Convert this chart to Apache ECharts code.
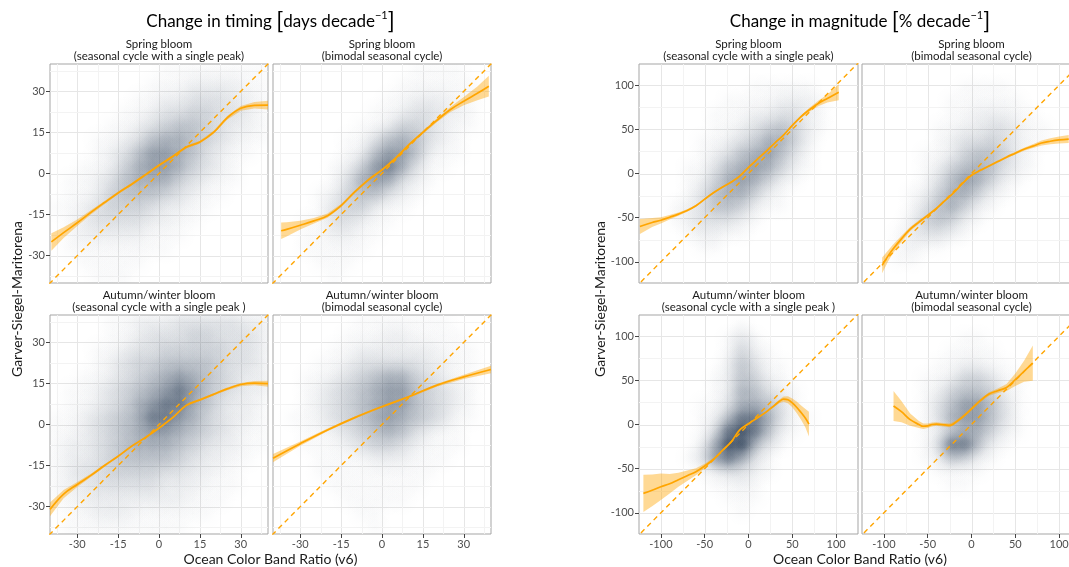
<!DOCTYPE html>
<html><head><meta charset="utf-8">
<script src="https://cdn.jsdelivr.net/npm/echarts@6/dist/echarts.min.js"></script>
<style>html,body{margin:0;padding:0;background:#fff}#c{width:1069px;height:567px}</style>
</head><body><div id="c"></div>
<script>
// ---------- DATA ----------
const timingTicks = [-30, -15, 0, 15, 30];
const timingMinor = [-37.5, -22.5, -7.5, 7.5, 22.5, 37.5];
const magTicks = [-100, -50, 0, 50, 100];
const magMinor = [-75, -25, 25, 75];
const timingRange = [-40, 40];
const magXRange = [-125, 125];
const magYRange = [-124, 124];
// density bins (16 x 16), rows listed from top (high y) to bottom
const timingBinStart = -40, timingBinStep = 5;
const magBinStart = -120, magBinStep = 15;

const subTop = ["Spring bloom", "Spring bloom"];
const subTop2 = ["(seasonal cycle with a single peak)", "(bimodal seasonal cycle)"];
const subBot = ["Autumn/winter bloom", "Autumn/winter bloom"];
const subBot2 = ["(seasonal cycle with a single peak )", "(bimodal seasonal cycle)"];

// Timing, spring, single peak
const densA = ["0000000011111111","0000000111222211","0000001122333221","0000011233443321","0000112345543221","0001123566543211","0001235776532110","0011246776432100","0112356664321100","0112455543211000","1123444322110000","0123333221100000","0122222111000000","0111111110000000","0011111000000000","0001110000000000"];
const xA = [-39.5,-35,-30,-25,-20,-15,-10,-5,0,5,10,15,20,25,30,35,40];
const yA = [-25.0,-21.6,-18.0,-14.2,-10.6,-7.1,-3.9,-0.5,3.0,6.2,9.6,11.5,15.0,20.3,23.8,24.9,25.0];
const ciA = [3.2,2.0,1.2,0.8,0.6,0.5,0.5,0.5,0.5,0.5,0.5,0.5,0.6,0.7,0.9,1.2,1.6];
// Timing, spring, bimodal
const densB = ["0000000000111100","0000000001111110","0000000011222110","0000000112332210","0000001124432110","0000011356532100","0000012577521100","0000124786311000","0000136763210000","0001245532100000","0001344211000000","0011332110000000","0011221100000000","0011111000000000","0001110000000000","0000100000000000"];
const xB = [-37,-35,-30,-25,-20,-15,-10,-5,0,5,10,15,20,25,30,35,39.2];
const yB = [-20.9,-20.4,-18.9,-17.3,-15.4,-11.7,-6.7,-2.3,1.3,5.6,10.6,15.0,19.3,23.3,26.4,29.3,31.9];
const ciB = [3.0,2.6,1.6,1.0,0.8,0.6,0.5,0.5,0.5,0.5,0.5,0.6,0.7,0.9,1.5,2.5,3.8];
// Timing, autumn/winter, single peak
const densC = ["0000112223333322","0000112333443332","0001123344444332","0001234455554332","0011234567654322","0112345678754322","0112346788653221","1123456887643221","1123456776543211","1223456665432211","1223455554322110","1233444433221100","1223333322211100","1122222222111000","0112221111110000","0111111111000000"];
const xC = [-40,-35,-30,-25,-20,-15,-10,-5,0,5,10,15,20,25,30,35,40];
const yC = [-31.0,-25.4,-21.9,-18.6,-15.0,-11.6,-7.9,-4.8,-1.3,2.5,7.0,9.0,11.0,13.0,14.6,15.1,14.9];
const ciC = [2.5,1.5,0.9,0.6,0.5,0.4,0.4,0.4,0.4,0.4,0.4,0.4,0.4,0.5,0.6,0.8,1.1];
// Timing, autumn/winter, bimodal
const densD = ["0000001111111000","0000011122111100","0000112222221110","0001123333322110","0011234566432110","0012345677543210","0012345677543210","0112345676543110","0011234565321100","0011123443211100","0001111222111000","0001111111110000","0000111111100000","0000011111000000","0000001100000000","0000000100000000"];
const xD = [-40,-30,-20,-10,0,10,20,30,40];
const yD = [-12.3,-7.0,-2.0,2.5,6.5,10.2,14.3,17.4,20.1];
const ciD = [1.5,0.8,0.5,0.4,0.4,0.4,0.5,0.8,1.4];
// Magnitude, spring, single peak
const densE = ["0000000000000000","0000000011111000","0000001111222100","0000011122332100","0000011234542100","0000112346642000","0000123567531000","0001135676421000","0001246764210000","0001356642100000","0012355421100000","0012333210000000","0001221100000000","0000110000000000","0000000000000000","0000000000000000"];
const xE = [-124,-110,-100,-90,-80,-70,-60,-50,-40,-30,-20,-10,0,10,20,30,40,50,60,70,80,90,103];
const yE = [-60,-55.5,-53,-49.5,-46,-42,-36.5,-29,-21.8,-15.5,-10,-3,7,16,25,34.5,43.5,54.5,64.5,72.5,79.5,85,92];
const ciE = [8.5,5,3.5,2.5,1.8,1.4,1.2,1,1,1,1,1,1,1,1,1,1,1.2,1.6,2.2,3.2,4.5,9];
// Magnitude, spring, bimodal
const densF = ["0000000000000000","0000000111100000","0000001111110000","0000001122211000","0000011223321100","0000012334321100","0000112455421000","0000124565321000","0000135764210000","0001246642100000","0001356421000000","0002454210000000","0012332100000000","0012110000000000","0011000000000000","0000000000000000"];
const xF = [-102,-95,-90,-80,-70,-60,-50,-40,-30,-20,-10,0,10,20,30,40,50,60,70,80,90,100,111];
const yF = [-104,-93,-86,-74,-63,-55,-47.5,-39.5,-30.5,-21.5,-11,-2,3.6,8.5,13.5,18.5,23,27.5,31,34.5,36.5,38,39];
const ciF = [9,6,5,3.5,2.5,2,1.5,1.3,1.2,1.2,1.2,1.2,1.2,1.2,1.2,1.3,1.5,1.8,2.2,2.8,3.5,4,4.5];
// Magnitude, autumn/winter, single peak
const densG = ["0000000100000000","0000001310000000","0000001421000000","0000002531100000","0000012542100000","0000012653210000","0000113665310000","0000125886311000","0000138985210000","0000269953100000","0001378631000000","0000123321000000","0000011210000000","0000001110000000","0000000100000000","0000000000000000"];
const xG = [-120,-110,-100,-90,-80,-70,-60,-50,-40,-30,-20,-10,0,10,20,30,35,40,45,50,55,60,65,69];
const yG = [-78,-74.5,-70.5,-67,-62.5,-58,-53.5,-47,-39.5,-29.5,-20,-6,0.9,7.4,14,22,26,28.8,28,24.5,19.5,13.5,7,0.5];
const ciG = [21,18,15,11,8,6,4,2.5,1.5,1,1,1,1,1,1,1.5,2,3,4,5,6.5,8,10.5,14];
// Magnitude, autumn/winter, bimodal
const densH = ["0000000000000000","0000000110000000","0000001111000000","0000011221100000","0000112443110000","0000124554210000","0000135775310000","0000136775310000","0000124664210000","0000138852100000","0000125421000000","0000011110000000","0000001100000000","0000000000000000","0000000000000000","0000000000000000"];
const xH = [-89,-80,-70,-60,-55,-50,-45,-40,-35,-30,-25,-20,-10,0,10,20,30,40,50,60,70];
const yH = [21,14.5,5.5,0,-2,-1.5,0,0.5,0,-0.5,-1,1.1,8.6,17.7,27,34.5,38.3,42,50.7,60.3,69.5];
const ciH = [17,12,7,4,3,2.5,2.2,2,2,2,2,2,1.8,1.8,1.8,2,2.5,4,7,12,20];

// ---------- STYLE / LAYOUT ----------
const FONT = "Lato, 'Open Sans', sans-serif";
const ORANGE = '#FFA500';
const ALPHA = [0, 0.018, 0.045, 0.08, 0.12, 0.17, 0.23, 0.3, 0.45, 0.65];
const layout = [
  {left: 50, top: 64, width: 218}, {left: 273, top: 64, width: 218},
  {left: 50, top: 315, width: 218}, {left: 273, top: 315, width: 218},
  {left: 639, top: 64, width: 219}, {left: 862, top: 64, width: 219},
  {left: 639, top: 315, width: 219}, {left: 862, top: 315, width: 219}
];
const showY = [true, false, true, false, true, false, true, false];
const showX = [false, false, true, true, false, false, true, true];

const T = {xr: timingRange, yr: timingRange, ticks: timingTicks, minor: timingMinor, bs: timingBinStart, step: timingBinStep};
const M = {xr: magXRange, yr: magYRange, ticks: magTicks, minor: magMinor, bs: magBinStart, step: magBinStep};
const panels = [
  {k: T, dens: densA, lx: xA, ly: yA, ci: ciA},
  {k: T, dens: densB, lx: xB, ly: yB, ci: ciB},
  {k: T, dens: densC, lx: xC, ly: yC, ci: ciC},
  {k: T, dens: densD, lx: xD, ly: yD, ci: ciD},
  {k: M, dens: densE, lx: xE, ly: yE, ci: ciE},
  {k: M, dens: densF, lx: xF, ly: yF, ci: ciF},
  {k: M, dens: densG, lx: xG, ly: yG, ci: ciG},
  {k: M, dens: densH, lx: xH, ly: yH, ci: ciH}
];

function clipRect(params) {
  const cs = params.coordSys;
  return {type: 'rect', shape: {x: cs.x, y: cs.y, width: cs.width, height: cs.height}};
}

const grid = [], xAxis = [], yAxis = [], series = [];
panels.forEach((p, i) => {
  const L = layout[i], k = p.k;
  grid.push({left: L.left, top: L.top, width: L.width, height: 219, show: true,
    borderColor: '#a5a5a5', borderWidth: 1, backgroundColor: 'transparent', containLabel: false, outerBoundsMode: 'none'});
  xAxis.push({type: 'value', gridIndex: i, min: k.xr[0], max: k.xr[1], position: 'bottom',
    axisLine: {show: false, onZero: false}, splitLine: {show: false},
    axisTick: {show: showX[i], customValues: k.ticks, length: 4, lineStyle: {color: '#444', width: 1}},
    axisLabel: {show: showX[i], customValues: k.ticks, color: '#4d4d4d', fontSize: 11, margin: 5, fontFamily: FONT}});
  yAxis.push({type: 'value', gridIndex: i, min: k.yr[0], max: k.yr[1], position: 'left',
    axisLine: {show: false, onZero: false}, splitLine: {show: false},
    axisTick: {show: showY[i], customValues: k.ticks, length: 4, lineStyle: {color: '#444', width: 1}},
    axisLabel: {show: showY[i], customValues: k.ticks, color: '#4d4d4d', fontSize: 11, margin: 5, fontFamily: FONT}});

  // grid lines (major + minor), drawn through the axes' scales
  const gl = [];
  k.ticks.forEach(v => { gl.push([v, 0, 1]); gl.push([v, 1, 1]); });
  k.minor.forEach(v => { gl.push([v, 0, 0]); gl.push([v, 1, 0]); });
  series.push({type: 'custom', xAxisIndex: i, yAxisIndex: i, z: 1, silent: true, data: gl,
    renderItem: (params, api) => {
      const v = api.value(0), dir = api.value(1), major = api.value(2);
      const cs = params.coordSys;
      const c = api.coord([v, v]);
      let shape;
      if (dir === 0) { const x = Math.round(c[0]) + 0.5; shape = {x1: x, y1: cs.y, x2: x, y2: cs.y + cs.height}; }
      else { const y = Math.round(c[1]) + 0.5; shape = {x1: cs.x, y1: y, x2: cs.x + cs.width, y2: y}; }
      return {type: 'line', shape, style: {stroke: major ? '#e6e6e6' : '#f3f3f3', lineWidth: 1}};
    }});

  // density cloud
  const dd = [];
  const top = k.bs + 16 * k.step;
  p.dens.forEach((row, r) => {
    for (let c = 0; c < row.length; c++) {
      const d = +row[c];
      if (d > 0) dd.push([k.bs + (c + 0.5) * k.step, top - (r + 0.5) * k.step, d]);
    }
  });
  series.push({type: 'custom', xAxisIndex: i, yAxisIndex: i, z: 2, silent: true, data: dd,
    renderItem: (params, api) => {
      const c = api.coord([api.value(0), api.value(1)]);
      const s = api.size([k.step, k.step]);
      const a = ALPHA[api.value(2)];
      const r = Math.max(s[0], s[1]) * 1.6;
      const col = f => 'rgba(30,50,76,' + (a * f).toFixed(4) + ')';
      return {type: 'circle', shape: {cx: c[0], cy: c[1], r},
        clipPath: clipRect(params),
        style: {fill: {type: 'radial', x: 0.5, y: 0.5, r: 0.5, colorStops: [
          {offset: 0, color: col(1)},
          {offset: 0.2, color: col(0.85)},
          {offset: 0.4, color: col(0.52)},
          {offset: 0.6, color: col(0.24)},
          {offset: 0.8, color: col(0.07)},
          {offset: 1, color: col(0)}]}}};
    }});

  // confidence band
  const band = p.lx.map((x, j) => [x, p.ly[j] - p.ci[j], p.ly[j] + p.ci[j]]);
  series.push({type: 'custom', xAxisIndex: i, yAxisIndex: i, z: 3, silent: true, data: band,
    renderItem: (params, api) => {
      if (params.dataIndex !== 0) return;
      const up = band.map(b => api.coord([b[0], b[2]]));
      const lo = band.map(b => api.coord([b[0], b[1]])).reverse();
      return {type: 'polygon', shape: {points: up.concat(lo)}, clipPath: clipRect(params),
        style: {fill: 'rgba(255,165,0,0.42)'}};
    }});

  // 1:1 dashed line
  series.push({type: 'line', xAxisIndex: i, yAxisIndex: i, z: 4, silent: true, symbol: 'none',
    data: [[k.xr[0] - 5, k.xr[0] - 5], [k.xr[1] + 5, k.xr[1] + 5]], clip: true,
    lineStyle: {color: ORANGE, width: 1.4, type: [5, 4]}});

  // smooth fit line
  series.push({type: 'line', xAxisIndex: i, yAxisIndex: i, z: 5, silent: true, symbol: 'none', smooth: 0.4,
    data: p.lx.map((x, j) => [x, p.ly[j]]), clip: true,
    lineStyle: {color: ORANGE, width: 1.7}});
});

// ---------- TEXT ----------
const graphic = [];
function txt(x, y, text, size, extra) {
  graphic.push(Object.assign({type: 'text', x, y, silent: true,
    style: {text, fontSize: size, fontFamily: FONT, fill: '#1a1a1a', align: 'center', verticalAlign: 'middle'}}, extra || {}));
}
const richT = {
  t: {fontSize: 17, fontFamily: FONT, lineHeight: 24, color: '#111'},
  b: {fontSize: 23, fontFamily: FONT, lineHeight: 24, color: '#111'},
  s: {fontSize: 11, fontFamily: FONT, lineHeight: 12, verticalAlign: 'top', color: '#111'}
};
graphic.push({type: 'text', x: 270.5, y: 22, silent: true, style: {text: '{t|Change in timing }{b|[}{t|days decade}{s|\u22121}{b|]}', rich: richT, align: 'center', verticalAlign: 'middle', fontFamily: FONT}});
graphic.push({type: 'text', x: 860, y: 22, silent: true, style: {text: '{t|Change in magnitude }{b|[}{t|% decade}{s|\u22121}{b|]}', rich: richT, align: 'center', verticalAlign: 'middle', fontFamily: FONT}});
const centers = [[159, 382], [748.5, 971.5]];
centers.forEach(cx => {
  cx.forEach((x, j) => {
    txt(x, 44, subTop[j], 11.5);
    txt(x, 56, subTop2[j], 11.5);
    txt(x, 295.5, subBot[j], 11.5);
    txt(x, 307.5, subBot2[j], 11.5);
  });
});
txt(270.5, 559.5, 'Ocean Color Band Ratio (v6)', 14);
txt(860, 559.5, 'Ocean Color Band Ratio (v6)', 14);
txt(17, 299, 'Garver-Siegel-Maritorena', 14, {rotation: Math.PI / 2});
txt(600, 299, 'Garver-Siegel-Maritorena', 14, {rotation: Math.PI / 2});

const chart = echarts.init(document.getElementById('c'), null, {renderer: 'canvas'});
chart.setOption({animation: false, backgroundColor: '#ffffff', grid, xAxis, yAxis, series, graphic});
</script></body></html>
